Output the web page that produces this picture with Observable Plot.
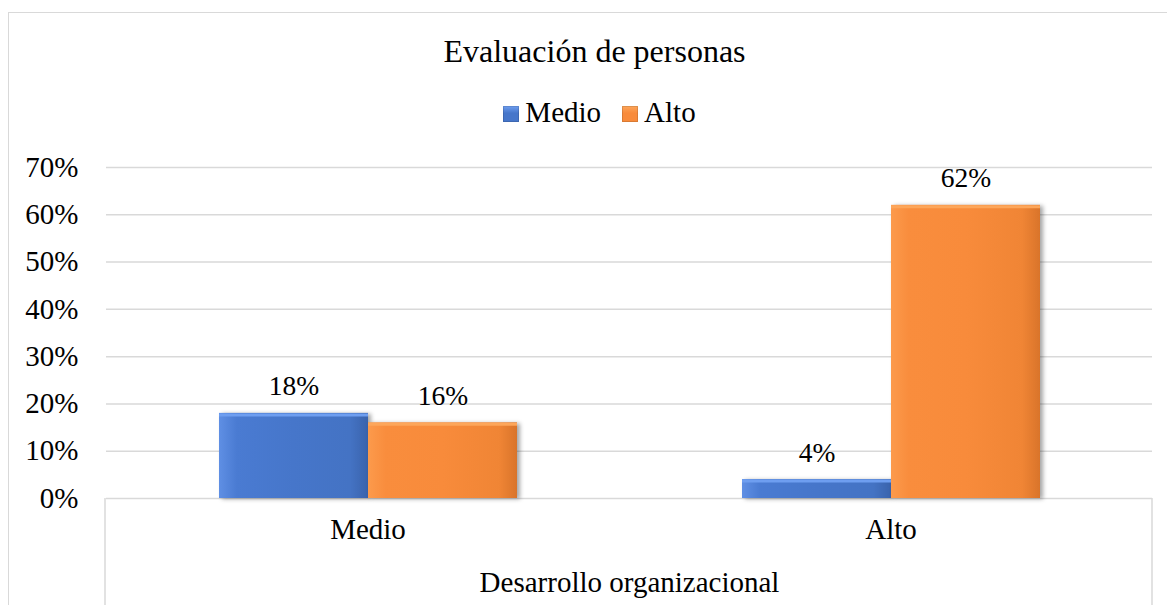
<!DOCTYPE html>
<html>
<head>
<meta charset="utf-8">
<script src="https://cdn.jsdelivr.net/npm/d3@7"></script>
<script src="https://cdn.jsdelivr.net/npm/@observablehq/plot@0.6"></script>
<style>
  body { margin: 0; background: #fff; }
  #wrap { position: relative; width: 1167px; height: 605px; overflow: hidden;
          font-family: "Liberation Serif", "Tinos", "DejaVu Serif", "Times New Roman", serif; color: #000; }
  #border { position: absolute; left: 8px; top: 12px; width: 1300px; height: 800px;
            border-left: 1.5px solid #d9d9d9; border-top: 1.5px solid #d9d9d9; pointer-events: none; }
  #header { position: relative; height: 140px; }
  #title { position: absolute; left: 0; width: 1189px; top: 35px; text-align: center;
           font-size: 32px; line-height: 1; }
  #legend { position: absolute; left: 0; width: 1199px; top: 98px; display: flex; justify-content: center;
            align-items: baseline; font-size: 29px; line-height: 1; }
  .sw { display: inline-block; width: 16px; height: 16px; margin-right: 6px; }
  .item2 { margin-left: 21px; }
  #chart svg { display: block; position: relative; }
  #chart svg, #chart svg text { font-family: "Liberation Serif", "Tinos", "DejaVu Serif", "Times New Roman", serif !important; }
  #chart g[aria-label="bar"] rect { filter: drop-shadow(3px 1px 2px rgba(0,0,0,0.35)); }
</style>
</head>
<body>
<div id="wrap">
  <div id="border"></div>
  <div id="header">
    <div id="title"></div>
    <div id="legend"></div>
  </div>
  <div id="chart"></div>
</div>
<script>
// ---- data ----
const titleText = "Evaluación de personas";
const axisTitle = "Desarrollo organizacional";
const groups = ["Medio", "Alto"];          // categories on the x axis
const series = ["Medio", "Alto"];          // legend series
const medioValues = [18, 4];               // % per group, series "Medio"
const altoValues = [16, 62];               // % per group, series "Alto"
const yTicks = [0, 10, 20, 30, 40, 50, 60, 70];
const seriesColors = ["#4676CA", "#F88B3B"];
const seriesLight = ["#6E9EF0", "#FDA65A"];

const rows = [];
groups.forEach((g, i) => {
  rows.push({group: g, series: series[0], value: medioValues[i]});
  rows.push({group: g, series: series[1], value: altoValues[i]});
});

document.getElementById("title").textContent = titleText;
const legend = document.getElementById("legend");
series.forEach((s, i) => {
  const item = document.createElement("span");
  item.style.display = "inline-flex";
  item.style.alignItems = "baseline";
  if (i > 0) item.className = "item2";
  const sw = document.createElement("span");
  sw.className = "sw";
  sw.style.background = `linear-gradient(to bottom, ${seriesLight[i]} 0%, ${seriesColors[i]} 45%, ${seriesColors[i]} 100%)`;
  sw.style.boxShadow = "inset 0 0 0 1px rgba(0,0,0,0.12)";
  const t = document.createElement("span");
  t.textContent = s;
  item.appendChild(sw); item.appendChild(t);
  legend.appendChild(item);
});

const W = 1167, H = 465;
const bySeries = s => rows.filter(d => d.series === s);
const serif = "Liberation Serif, Tinos, DejaVu Serif, Times New Roman, serif";

const chart = Plot.plot({
  width: W,
  height: H,
  marginTop: 27,
  marginBottom: 107,
  marginLeft: 105,
  marginRight: 15,
  style: {fontFamily: serif, fontSize: "29px", color: "#000", background: "transparent", overflow: "visible"},
  fx: {domain: groups, padding: 0},
  x: {domain: series, paddingInner: 0, paddingOuter: 0.745, axis: null},
  y: {domain: [0, 70]},
  marks: [
    Plot.gridY(yTicks, {stroke: "#d9d9d9", strokeOpacity: 1, strokeWidth: 1.5}),
    Plot.barY(bySeries(series[0]), {fx: "group", x: "series", y: "value", fill: "url(#gBlue)"}),
    Plot.barY(bySeries(series[1]), {fx: "group", x: "series", y: "value", fill: "url(#gOrange)"}),
    Plot.tickY(bySeries(series[0]), {fx: "group", x: "series", y: "value", stroke: seriesLight[0], strokeWidth: 3, dy: 1.5}),
    Plot.tickY(bySeries(series[1]), {fx: "group", x: "series", y: "value", stroke: seriesLight[1], strokeWidth: 3, dy: 1.5}),
    Plot.text(rows, {fx: "group", x: "series", y: "value", text: d => d.value + "%", lineAnchor: "bottom", dy: -18, fontSize: 27.5, fill: "#000"}),
    Plot.axisY({ticks: yTicks, tickFormat: d => d + "%", tickSize: 0, tickPadding: 28, label: null, fontSize: 29}),
    Plot.axisFx({anchor: "bottom", tickSize: 0, tickPadding: 20, label: axisTitle, labelAnchor: "center", labelOffset: 93, fontSize: 29})
  ]
});

const svg = d3.select(chart);
const defs = svg.insert("defs", ":first-child");
function grad(id, stops) {
  const g = defs.append("linearGradient").attr("id", id)
    .attr("x1", 0).attr("x2", 1).attr("y1", 0).attr("y2", 0);
  stops.forEach(([o, c]) => g.append("stop").attr("offset", o).attr("stop-color", c));
}
grad("gBlue", [[0, "#5F8FE4"], [0.12, "#4A7BD2"], [0.5, "#4676CA"], [0.88, "#4473C4"], [1, "#3A63AC"]]);
grad("gOrange", [[0, "#FC9A4C"], [0.12, "#F98D3D"], [0.5, "#F88B3B"], [0.88, "#F08535"], [1, "#D9742A"]]);

// category-axis dividers below the baseline (from the library's scales)
const fxS = chart.scale("fx");
const yS = chart.scale("y");
const y0 = yS.apply(0);
const edges = [fxS.range[0], fxS.range[1]];
svg.append("g").selectAll("line").data(edges).join("line")
  .attr("x1", d => d).attr("x2", d => d)
  .attr("y1", y0).attr("y2", H)
  .attr("stroke", "#d9d9d9").attr("stroke-width", 1.5);

document.getElementById("chart").appendChild(chart);
</script>
</body>
</html>
